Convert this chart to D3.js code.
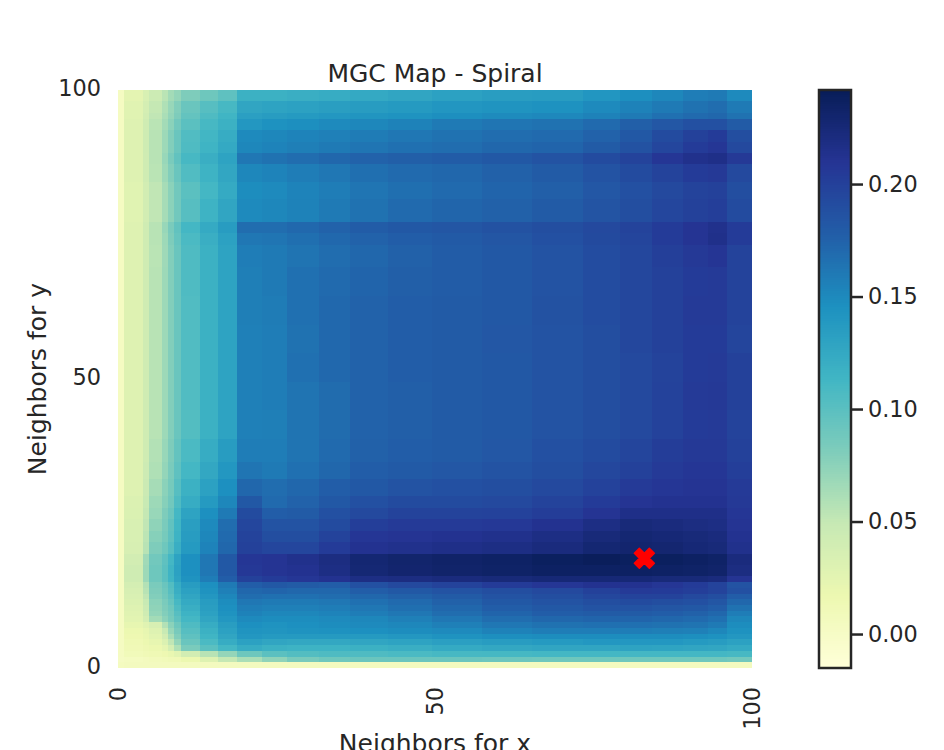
<!DOCTYPE html>
<html><head><meta charset="utf-8">
<script src="https://cdn.jsdelivr.net/npm/d3@7"></script>
<style>html,body{margin:0;padding:0;background:#fff;overflow:hidden}text{font-family:"DejaVu Sans";fill:#262626}</style>
</head><body><svg id="c" width="944" height="750"></svg>
<script>
const title = "MGC Map - Spiral";
const xLabel = "Neighbors for x";
const yLabel = "Neighbors for y";
const axisTicks = [0, 50, 100];
const barTicks = [0, 0.05, 0.10, 0.15, 0.20];
const optimum = [83.85, 19.17];
const vMin = -0.0151, vMax = 0.2418;
const cmapStops = ["#ffffd9","#edf8b1","#c7e9b4","#7fcdbb","#41b6c4","#1d91c0","#225ea8","#253494","#081d58"];
// first neighbour count of each block of columns / rows (rows listed top-down), 101 scales in all
const colStarts = [0,1,4,5,7,8,9,10,13,16,19,23,27,32,37,43,50,58,66,74,80,85,90,94,97];
const rowStarts = [99,97,96,94,92,90,88,85,82,78,76,74,70,65,60,55,50,45,40,36,33,30,28,26,24,22,20,18,16,15,14,13,12,11,10,9,8,7,6,5,4,3,2,1,0];
// test statistic x 1000
const statRows = [
[3,25,35,45,55,65,72,82,90,98,118,118,120,122,125,128,132,135,136,141,147,152,158,160,150],
[3,28,38,50,60,70,80,92,102,110,128,130,132,134,136,138,141,143,145,150,155,160,165,168,160],
[3,28,40,52,62,72,82,95,106,114,133,136,138,140,142,144,147,149,151,155,160,166,170,172,165],
[3,30,42,55,65,76,88,100,110,118,140,145,147,150,152,155,160,163,165,170,177,183,188,188,180],
[3,30,43,56,68,80,92,105,113,122,150,152,154,156,159,162,165,168,170,175,182,192,200,204,190],
[3,30,43,56,68,80,92,106,115,125,152,154,157,160,163,166,168,172,174,180,187,196,204,208,194],
[3,30,42,56,70,84,96,110,120,130,162,165,168,172,175,177,179,182,186,192,198,208,214,216,206],
[3,30,42,55,68,80,92,105,116,127,152,154,158,162,167,170,172,176,180,186,192,198,204,206,194],
[3,28,40,52,64,76,88,100,112,124,148,150,154,158,163,167,170,174,177,183,188,194,198,200,190],
[3,28,40,52,64,76,88,102,116,128,150,152,155,160,165,170,173,176,180,185,190,196,200,202,192],
[3,30,42,56,70,84,96,112,124,136,168,168,171,175,179,182,184,187,190,194,198,204,210,214,204],
[3,30,42,56,68,82,94,108,120,132,162,163,167,171,175,178,181,184,188,193,197,204,210,215,204],
[3,30,42,55,67,80,92,106,118,130,158,160,164,168,172,176,179,182,186,191,195,201,206,209,198],
[3,30,42,56,68,80,92,106,118,130,157,160,166,170,174,177,179,182,186,191,195,200,204,205,198],
[3,30,42,56,68,80,92,105,118,130,157,159,166,171,175,178,180,182,187,191,195,200,205,205,198],
[3,30,42,56,68,80,92,105,118,130,156,158,165,171,175,178,180,183,186,190,195,200,204,204,197],
[3,30,42,56,68,80,92,105,118,130,156,158,166,171,175,178,180,182,186,190,194,198,204,205,200],
[3,30,42,56,68,80,92,105,118,130,156,158,164,169,175,177,180,182,186,190,194,199,205,206,200],
[3,30,42,56,68,80,92,104,118,130,156,157,164,169,175,177,180,182,186,190,194,199,204,205,198],
[3,30,42,58,70,82,95,108,122,136,158,158,164,170,176,178,180,183,188,192,197,203,206,206,200],
[3,30,44,60,72,84,98,112,126,140,163,160,166,172,178,181,183,186,190,195,200,205,208,208,202],
[3,30,46,64,76,86,102,118,132,146,172,168,172,178,182,186,188,190,194,199,205,208,210,210,205],
[3,32,48,68,78,88,106,122,138,152,182,170,175,182,188,192,192,194,198,204,210,212,212,212,206],
[3,33,50,70,82,92,112,130,146,160,192,178,180,188,194,198,198,199,203,210,216,216,216,216,208],
[3,35,52,74,84,96,114,134,150,168,196,186,186,192,202,205,205,207,212,218,224,222,220,218,210],
[3,35,54,78,86,98,116,136,152,170,198,190,190,198,208,210,212,214,218,224,228,226,224,222,212],
[3,36,56,82,90,102,120,138,154,172,200,196,196,204,212,214,216,218,222,228,230,229,226,224,214],
[3,40,66,88,98,112,130,146,162,182,208,210,214,220,228,231,233,235,238,240,238,238,236,234,222],
[3,42,68,90,100,115,132,146,162,182,207,210,212,218,227,230,232,234,236,236,236,235,234,232,220],
[3,42,68,90,100,114,130,144,158,178,200,204,208,212,218,220,222,224,226,226,226,224,224,222,210],
[3,38,58,84,92,104,122,136,146,160,178,182,180,178,188,194,198,204,208,212,212,208,204,198,186],
[3,36,56,82,90,102,120,132,144,156,172,174,172,172,178,182,186,190,194,200,205,204,202,198,188],
[3,34,52,80,88,98,116,128,140,152,168,166,166,168,172,176,180,186,190,195,198,198,194,190,178],
[3,32,48,76,84,94,110,124,136,148,162,160,160,162,166,170,176,182,186,190,192,190,188,184,172],
[3,30,45,74,82,90,106,120,134,146,158,156,156,158,162,167,172,178,182,186,186,184,182,178,165],
[3,28,42,72,80,88,102,116,132,144,155,152,152,154,158,162,168,174,178,180,180,178,176,172,158],
[3,26,38,65,76,86,98,112,128,140,150,148,148,150,152,156,162,168,172,174,174,172,170,166,152],
[3,22,28,36,58,76,90,106,122,135,146,144,146,148,150,152,156,162,165,166,166,165,164,160,148],
[3,18,22,30,48,70,85,102,118,132,143,142,144,145,146,148,150,155,158,158,158,157,156,152,145],
[3,16,20,26,40,62,80,98,114,128,140,138,138,138,138,140,144,147,148,148,148,148,147,145,140],
[3,14,18,22,32,52,72,92,108,122,132,128,126,126,128,130,133,136,138,140,140,140,138,136,132],
[3,12,15,18,24,38,60,84,100,112,122,118,116,116,118,120,124,126,128,128,130,129,128,127,124],
[3,10,12,14,16,20,26,40,56,72,90,100,104,106,106,108,110,111,112,112,112,112,112,112,110],
[2,4,6,8,10,11,12,18,30,50,62,74,85,90,92,92,92,91,90,90,90,90,90,90,88],
[5,6,6,6,6,6,6,6,6,6,6,6,6,6,6,6,6,6,6,6,6,6,6,6,6]
];

const L = 118, R = 752, T = 90, B = 668, N = 101;
const svg = d3.select("#c");
const color = d3.scaleLinear()
  .domain(cmapStops.map((_, i) => vMin + (vMax - vMin) * i / (cmapStops.length - 1)))
  .range(cmapStops);
const xCell = d3.scaleLinear().domain([0, N]).range([L, R]);
const yCell = d3.scaleLinear().domain([0, N]).range([B, T]);

const cells = [];
statRows.forEach((row, r) => row.forEach((v, c) => cells.push({
  x0: colStarts[c], x1: c + 1 < colStarts.length ? colStarts[c + 1] : N,
  y0: rowStarts[r], y1: r > 0 ? rowStarts[r - 1] : N, v: v / 1000
})));
svg.append("g").attr("shape-rendering", "crispEdges").selectAll("rect").data(cells).join("rect")
  .attr("x", d => xCell(d.x0)).attr("width", d => xCell(d.x1) - xCell(d.x0))
  .attr("y", d => yCell(d.y1)).attr("height", d => yCell(d.y0) - yCell(d.y1))
  .attr("fill", d => color(d.v));

// optimum marker: matplotlib's filled "X"
const xMark = { draw(ctx, size) {
  const s = Math.sqrt(size) / 4;
  const v = [[-1,-2],[0,-1],[1,-2],[2,-1],[1,0],[2,1],[1,2],[0,1],[-1,2],[-2,1],[-1,0],[-2,-1]];
  v.forEach((p, i) => i ? ctx.lineTo(p[0]*s, p[1]*s) : ctx.moveTo(p[0]*s, p[1]*s));
  ctx.closePath();
}};
svg.append("path").attr("d", d3.symbol(xMark, 400)())
  .attr("transform", `translate(${xCell(optimum[0])},${yCell(optimum[1])})`)
  .attr("fill", "#ff0000").attr("stroke", "#ff0000").attr("stroke-width", 1.5).attr("stroke-linejoin", "round");

// axes
const FS = 22.4, LS = 25;
const xTick = d3.scaleLinear().domain([0, 100]).range([L, R]);
const yTick = d3.scaleLinear().domain([0, 100]).range([B, T]);
const gx = svg.append("g").attr("transform", `translate(0,${B})`)
  .call(d3.axisBottom(xTick).tickValues(axisTicks).tickSize(0).tickFormat(d3.format("d")));
gx.select(".domain").remove();
gx.selectAll("text").attr("font-size", FS).attr("font-family", "DejaVu Sans").attr("fill", "#262626")
  .attr("text-anchor", "end").attr("dy", null).attr("dominant-baseline", "central")
  .attr("transform", d => `translate(-1,19) rotate(-90)`).attr("x", 0).attr("y", 0);
const gy = svg.append("g").attr("transform", `translate(${L},0)`)
  .call(d3.axisLeft(yTick).tickValues(axisTicks).tickSize(0).tickFormat(d3.format("d")));
gy.select(".domain").remove();
gy.selectAll("text").attr("font-size", FS).attr("font-family", "DejaVu Sans").attr("fill", "#262626")
  .attr("x", -17).attr("dy", null).attr("y", -3).attr("dominant-baseline", "central");

svg.append("text").attr("x", 435).attr("y", 82).attr("text-anchor", "middle").attr("font-size", LS).text(title);
svg.append("text").attr("x", 435).attr("y", 752).attr("text-anchor", "middle").attr("font-size", LS).text(xLabel);
svg.append("text").attr("transform", "translate(46,379) rotate(-90)").attr("text-anchor", "middle").attr("font-size", LS).text(yLabel);

// colorbar
const barL = 819, barR = 851;
const yBar = d3.scaleLinear().domain([vMin, vMax]).range([B, T]);
const steps = d3.range(0, 256).map(i => vMin + (vMax - vMin) * i / 256);
const stepH = (vMax - vMin) / 256;
svg.append("g").attr("shape-rendering", "crispEdges").selectAll("rect").data(steps).join("rect")
  .attr("x", barL).attr("width", barR - barL)
  .attr("y", d => yBar(d + stepH) ).attr("height", d => yBar(d) - yBar(d + stepH) + 0.5)
  .attr("fill", d => color(d + stepH / 2));
svg.append("rect").attr("x", barL).attr("y", T).attr("width", barR - barL).attr("height", B - T)
  .attr("fill", "none").attr("stroke", "#262626").attr("stroke-width", 2.5);
const gb = svg.append("g").attr("transform", `translate(${barR},0)`)
  .call(d3.axisRight(yBar).tickValues(barTicks).tickSize(12).tickPadding(5).tickFormat(d3.format(".2f")));
gb.select(".domain").remove();
gb.selectAll("line").attr("stroke", "#262626").attr("stroke-width", 2.5);
gb.selectAll("text").attr("font-size", FS).attr("font-family", "DejaVu Sans").attr("fill", "#262626");
</script></body></html>
